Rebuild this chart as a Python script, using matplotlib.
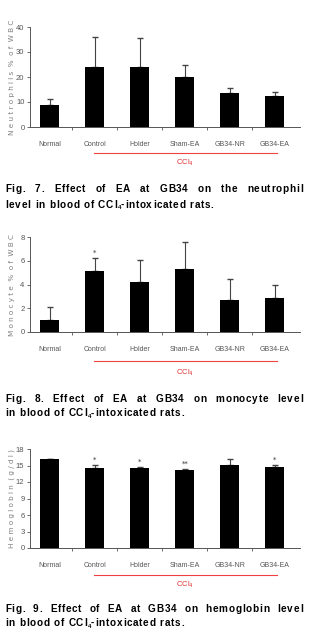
import matplotlib
matplotlib.use("Agg")
import matplotlib.pyplot as plt
import matplotlib.transforms as mtransforms
import numpy as np

W, H = 309, 642

groups = ["Normal", "Control", "Holder", "Sham-EA", "GB34-NR", "GB34-EA"]

neut_mean = [9.0, 24.0, 24.0, 20.0, 13.8, 12.3]
neut_err = [2.3, 12.0, 11.8, 5.0, 1.9, 1.8]
neut_star = ["", "", "", "", "", ""]
neut_ticks = [0, 10, 20, 30, 40]

mono_mean = [1.0, 5.1, 4.2, 5.3, 2.7, 2.9]
mono_err = [1.1, 1.15, 1.9, 2.3, 1.8, 1.1]
mono_star = ["", "*", "", "", "", ""]
mono_ticks = [0, 2, 4, 6, 8]

hb_mean = [16.2, 14.5, 14.5, 14.2, 15.1, 14.7]
hb_err = [0.0, 0.55, 0.3, 0.2, 1.0, 0.4]
hb_star = ["", "*", "*", "**", "", "*"]
hb_ticks = [0, 3, 6, 9, 12, 15, 18]

# "_4" marks a subscript 4
captions = [
    ("Fig. 7. Effect of EA at GB34 on the neutrophil",
     "level in blood of CCl_4-intoxicated rats."),
    ("Fig. 8. Effect of EA at GB34 on monocyte level",
     "in blood of CCl_4-intoxicated rats."),
    ("Fig. 9. Effect of EA at GB34 on hemoglobin level",
     "in blood of CCl_4-intoxicated rats."),
]

ylabels = ["N e u t r o p h i l s  %  o f  W B C",
           "M o n o c y t e  %  o f  W B C",
           "H e m o g l o b i n  ( g / d l )"]

narrow = ["Liberation Sans Narrow", "Liberation Sans", "DejaVu Sans"]
gray = "#555555"
CAP_SIZE = 7.2
TRACK = 0.75

fig = plt.figure(figsize=(W / 100, H / 100), dpi=100)
renderer = fig.canvas.get_renderer()


def make_word(word):
    # draw a word letter by letter with extra tracking; returns (pieces, width)
    pieces = []
    pos = 0.0
    i = 0
    while i < len(word):
        ch = word[i]
        size, dy = CAP_SIZE, 0.0
        if ch == "_":
            i += 1
            ch = word[i]
            size, dy = CAP_SIZE * 0.62, -2.0
        t = fig.text(0, 0, ch, fontsize=size, fontweight="bold",
                     family="Liberation Sans", va="baseline", ha="left")
        wd = t.get_window_extent(renderer).width
        pieces.append((t, pos, dy))
        pos += wd + (TRACK if size == CAP_SIZE else 0.2)
        i += 1
    return pieces, pos - TRACK


def place(pieces, x0, ybase):
    for t, off, dy in pieces:
        t.set_position(((x0 + off) / W, 1 - (ybase - dy) / H))


def caption_line(text, ybase, justify):
    words = [make_word(w) for w in text.split(" ")]
    total = sum(w[1] for w in words)
    if justify:
        gap = (303 - 5 - total) / (len(words) - 1)
    else:
        gap = CAP_SIZE * 1.389 * 0.28 + 2 * TRACK
    pos = 5
    for pieces, wd in words:
        place(pieces, pos, ybase)
        pos += wd + gap


# pixel layout: (axes top, axes bottom, red line y, CCl4 y, caption baselines)
panels = [
    (27, 127, 153, 163, 191.5, 207.5),
    (237, 332, 361, 373, 401.5, 416.5),
    (449, 548, 575, 585, 611.5, 625.5),
]
datasets = [
    (neut_mean, neut_err, neut_star, neut_ticks),
    (mono_mean, mono_err, mono_star, mono_ticks),
    (hb_mean, hb_err, hb_star, hb_ticks),
]

x = np.arange(len(groups))
for k, (top, bot, redy, ccly, c1, c2) in enumerate(panels):
    mean, err, star, ticks = datasets[k]
    ax = fig.add_axes([30 / W, 1 - bot / H, 270 / W, (bot - top) / H])
    ax.bar(x, mean, width=0.43, color="black", zorder=2)
    ax.errorbar(x, mean, yerr=[np.zeros(len(err)), err], fmt="none",
                ecolor="#444444", elinewidth=0.8, capsize=2, capthick=1, zorder=1)
    for xi, m, e, s in zip(x, mean, err, star):
        if s:
            ax.text(xi, m + e + ticks[-1] * 0.02, s, ha="center", va="bottom",
                    fontsize=5, color="#333333")
    ax.set_xlim(-0.44, 5.56)
    ax.set_ylim(0, ticks[-1])
    ax.set_yticks(ticks)
    ax.set_yticklabels([str(t) for t in ticks], fontsize=5.5, color=gray, family=narrow)
    ax.set_xticks(x)
    ax.set_xticklabels(groups, fontsize=5, color=gray, family=narrow)
    ax.set_xticks(np.arange(len(groups) - 1) + 0.5, minor=True)
    ax.tick_params(axis="x", which="major", length=0, pad=10)
    ax.tick_params(axis="x", which="minor", length=2, color=gray, direction="out")
    ax.tick_params(axis="y", length=2, color=gray, width=0.6, pad=2)
    for side in ["top", "right"]:
        ax.spines[side].set_visible(False)
    for side in ["left", "bottom"]:
        ax.spines[side].set_color(gray)
        ax.spines[side].set_linewidth(0.7)
    fig.text(12 / W, 1 - (top + bot) / 2 / H, ylabels[k], rotation=90, ha="center",
             va="center", fontsize=5.2, color="#808080")
    trans = mtransforms.blended_transform_factory(ax.transData, fig.transFigure)
    ax.plot([0.98, 5.05], [1 - redy / H] * 2, color="#f04040", lw=0.8,
            transform=trans, clip_on=False)
    ax.text(3.0, 1 - ccly / H, "CCl$_4$", color="#e03030", fontsize=5.5,
            ha="center", va="center", transform=trans, family=narrow)

    caption_line(captions[k][0], c1, True)
    caption_line(captions[k][1], c2, False)

fig.savefig("out.png", dpi=100)
